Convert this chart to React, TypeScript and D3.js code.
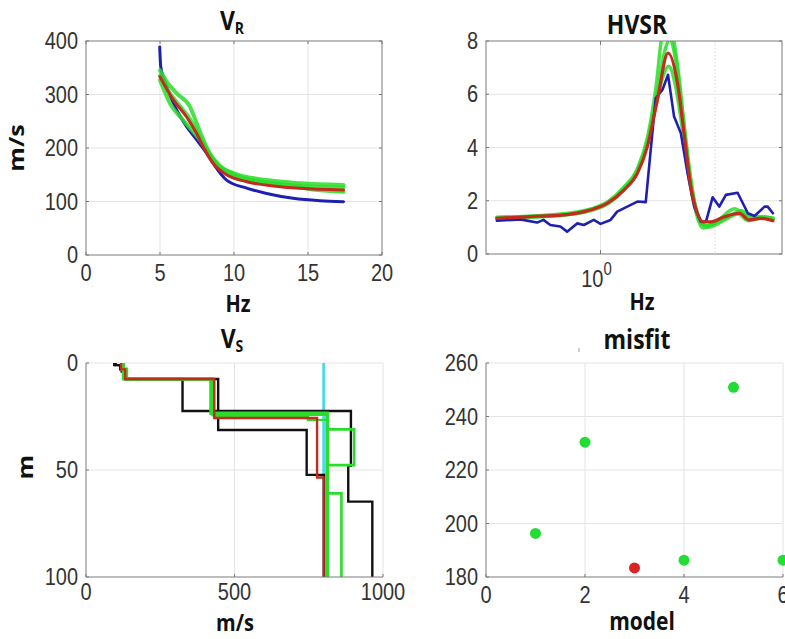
import * as d3 from "d3"

const W = 785
const H = 639
const SY = 1.2

// V_R dispersion curves: [Hz, m/s]
const vrBlue = [[4.98,389],[5.05,352],[5.45,315],[6.13,271],[6.8,240],[7.48,215],[8.15,190],[8.6,171],[9.5,140],[10.86,125],[12.2,115],[14.0,106],[15.8,101.5],[17.4,99.6]]
const vrRed = [[5.0,333],[5.9,290],[6.8,258],[7.48,227],[7.93,202],[8.6,171],[9.5,150],[10.86,137],[12.65,129],[14.46,124.6],[17.4,121.5]]
const vrGreenHigh = [[5.0,345],[5.5,322],[6.13,302],[7.03,277],[7.48,246],[7.93,215],[8.8,171],[9.95,153],[12.2,140],[14.5,134],[17.4,131]]
const vrGreenMid = [[5.0,335],[5.6,305],[6.3,280],[7.0,255],[7.6,225],[8.2,195],[9.0,168],[10,150],[12,137],[14.5,129],[17.4,126]]
const vrGreenLow = [[5.0,327],[5.68,283],[6.57,252],[7.7,215],[8.6,178],[9.95,146],[11.5,136],[13.3,131],[15.5,122],[17.4,118]]

// HVSR curves: [Hz, ratio]
const hvBlue = [[0.534,1.25],[0.615,1.3],[0.681,1.18],[0.708,1.28],[0.738,1.09],[0.784,1.03],[0.817,0.84],[0.868,1.15],[0.904,1.09],[0.96,1.28],[1.0,1.13],[1.063,1.28],[1.106,1.59],[1.176,1.78],[1.25,1.97],[1.315,1.95],[1.355,3.9],[1.397,5.85],[1.455,6.17],[1.505,6.73],[1.561,5.16],[1.626,4.54],[1.694,3.03],[1.763,1.78],[1.836,1.21],[1.893,1.21],[1.971,2.13],[2.052,1.78],[2.136,2.22],[2.293,2.3],[2.44,1.53],[2.54,1.43],[2.7,1.78],[2.75,1.78],[2.84,1.53]]
const hvRed = [[0.534,1.34],[0.69,1.42],[0.817,1.48],[0.94,1.65],[1.04,1.9],[1.152,2.4],[1.25,3.03],[1.328,4.03],[1.411,5.79],[1.505,7.55],[1.593,6.42],[1.658,4.54],[1.727,2.53],[1.798,1.53],[1.855,1.21],[1.95,1.21],[2.116,1.4],[2.318,1.53],[2.46,1.28],[2.64,1.34],[2.84,1.25]]
const hvGreenA = [[0.534,1.38],[0.7,1.45],[0.85,1.56],[0.95,1.7],[1.05,1.98],[1.15,2.5],[1.25,3.2],[1.33,4.4],[1.4,6.3],[1.45,8.2],[1.49,8.9],[1.54,8.4],[1.6,6.9],[1.66,4.8],[1.73,2.7],[1.8,1.35],[1.86,0.98],[1.95,1.02],[2.1,1.25],[2.3,1.5],[2.45,1.25],[2.65,1.35],[2.84,1.3]]
const hvGreenB = [[0.534,1.32],[0.7,1.4],[0.85,1.5],[0.95,1.64],[1.05,1.9],[1.15,2.4],[1.25,3.1],[1.33,4.2],[1.41,5.8],[1.47,6.8],[1.51,7.05],[1.57,6.4],[1.63,5.0],[1.69,3.3],[1.76,1.9],[1.84,1.15],[1.9,1.05],[2.05,1.3],[2.25,1.7],[2.42,1.45],[2.6,1.4],[2.84,1.35]]
const hvGreenC = [[0.534,1.36],[0.7,1.43],[0.85,1.52],[0.95,1.68],[1.05,1.93],[1.15,2.45],[1.25,3.1],[1.33,4.2],[1.41,6.0],[1.48,7.7],[1.52,8.05],[1.58,7.2],[1.64,5.4],[1.7,3.5],[1.77,1.9],[1.84,1.2],[1.9,1.05],[2.0,1.15],[2.2,1.45],[2.35,1.62],[2.5,1.35],[2.7,1.4],[2.84,1.32]]

// V_S profiles: layers [m/s, bottom depth m]
const vsCyan = [[800,100]]
const vsBlackA = [[95,1],[115,3],[130,7.5],[445,31.3],[743,52.3],[802,100]]
const vsBlackB = [[100,1],[120,4],[135,7.5],[325,22.4],[892,48],[883,64.8],[964,100]]
const vsRed = [[118,3],[132,7.5],[432,25.7],[778,53.5],[800,100]]
const vsGreen1 = [[122,3],[136,7.5],[421,23.5],[812,100]]
const vsGreen2 = [[125,7.5],[426,24.2],[812,31],[903,47.7],[812,60.9],[860,100]]
const vsGreen3 = [[128,7.5],[430,24.8],[747,26.6],[812,100]]

// misfit per model
const models = [1, 2, 3, 4, 5, 6]
const misfits = [196.3, 230.4, 183.4, 186.3, 250.9, 186.3]
const bestModel = 3

const GREEN = "#2add2a"
const RED = "#c42a1e"
const BLUE = "#2020b0"
const BLACK = "#111"
const CYAN = "#40d8ee"
const GRID = "#e4e4e4"
const AXIS = "#7a7a7a"
const TICKTXT = "#333"

function Txt({x, y, size, bold, anchor, rot, children, color}: any) {
    const tf = rot
        ? `translate(${x},${y}) rotate(-90) scale(${SY},1)`
        : `translate(${x},${y}) scale(1,${SY})`
    return (
        <text
        transform={tf}
        fontSize={size}
        fontWeight={bold ? 700 : 400}
        fontFamily={bold ? "'Open Sans', sans-serif" : "'Liberation Sans', Arial, sans-serif"}
        textAnchor={anchor || "middle"}
        fill={color || (bold ? BLACK : TICKTXT)}
        >
            {children}
        </text>
    )
}

function steps(layers: number[][]) {
    const pts: number[][] = []
    layers.forEach((l, i) => {
        const top = i === 0 ? 0 : layers[i - 1][1]
        pts.push([l[0], top])
        pts.push([l[0], l[1]])
    })
    return pts
}

export default function App() {
    // V_R panel
    const x1 = d3.scaleLinear().domain([0, 20]).range([86, 382])
    const y1 = d3.scaleLinear().domain([0, 400]).range([255, 41])
    const line1 = d3.line<number[]>().x(d => x1(d[0])).y(d => y1(d[1])).curve(d3.curveMonotoneX)

    // HVSR panel
    const x2 = d3.scaleLog().domain([0.5, 3]).range([486, 782])
    const y2 = d3.scaleLinear().domain([0, 8]).range([254, 41])
    const line2 = d3.line<number[]>().x(d => x2(d[0])).y(d => y2(d[1]))
    const line2s = d3.line<number[]>().x(d => x2(d[0])).y(d => y2(d[1])).curve(d3.curveMonotoneX)

    // V_S panel
    const x3 = d3.scaleLinear().domain([0, 1000]).range([86, 383])
    const y3 = d3.scaleLinear().domain([0, 100]).range([363, 577])
    const line3 = d3.line<number[]>().x(d => x3(d[0])).y(d => y3(d[1]))

    // misfit panel
    const x4 = d3.scaleLinear().domain([0, 6]).range([486, 783])
    const y4 = d3.scaleLinear().domain([180, 260]).range([577, 363])

    const vr = [
        {d: vrBlue, c: BLUE, w: 3},
        {d: vrGreenHigh, c: GREEN, w: 4},
        {d: vrGreenMid, c: GREEN, w: 4},
        {d: vrGreenLow, c: GREEN, w: 4},
        {d: vrRed, c: RED, w: 3},
    ]
    const hv = [
        {d: hvGreenA, c: GREEN, w: 3.5, s: true},
        {d: hvGreenB, c: GREEN, w: 3.5, s: true},
        {d: hvGreenC, c: GREEN, w: 3.5, s: true},
        {d: hvBlue, c: BLUE, w: 2.6, s: false},
        {d: hvRed, c: RED, w: 3.2, s: true},
    ]
    const vs = [
        {d: vsCyan, c: CYAN, w: 2.6},
        {d: vsBlackA, c: BLACK, w: 2.4},
        {d: vsBlackB, c: BLACK, w: 2.4},
        {d: vsGreen3, c: GREEN, w: 2.4},
        {d: vsGreen2, c: GREEN, w: 2.6},
        {d: vsGreen1, c: GREEN, w: 3.6},
        {d: vsRed, c: RED, w: 2.4},
    ]

    return (
        <svg width={W} height={H} style={{position: "absolute", left: 0, top: 0, background: "#fff"}}>
            <defs>
                <clipPath id="c1"><rect x={86} y={41} width={296} height={214} /></clipPath>
                <clipPath id="c2"><rect x={486} y={41} width={296} height={213} /></clipPath>
                <clipPath id="c3"><rect x={86} y={363} width={297} height={214} /></clipPath>
            </defs>

            {/* ---- V_R ---- */}
            <g>
                {[5, 10, 15].map(t => <line key={t} x1={x1(t)} x2={x1(t)} y1={41} y2={255} stroke={GRID} />)}
                {[100, 200, 300].map(t => <line key={t} x1={86} x2={382} y1={y1(t)} y2={y1(t)} stroke={GRID} />)}
                <g clipPath="url(#c1)" fill="none" strokeLinecap="round" strokeLinejoin="round">
                    {vr.map((s, i) => <path key={i} d={line1(s.d as any) || ""} stroke={s.c} strokeWidth={s.w} strokeOpacity={s.c === GREEN ? 0.85 : 1} />)}
                </g>
                <rect x={86} y={41} width={296} height={214} fill="none" stroke={AXIS} />
                {x1.ticks(4).map(t => (
                    <g key={t}>
                        <line x1={x1(t)} x2={x1(t)} y1={255} y2={252} stroke={AXIS} />
                        <line x1={x1(t)} x2={x1(t)} y1={41} y2={44} stroke={AXIS} />
                        <Txt x={x1(t)} y={281} size={20}>{t}</Txt>
                    </g>
                ))}
                {y1.ticks(4).map(t => (
                    <g key={t}>
                        <line x1={86} x2={89} y1={y1(t)} y2={y1(t)} stroke={AXIS} />
                        <line x1={382} x2={379} y1={y1(t)} y2={y1(t)} stroke={AXIS} />
                        <Txt x={78} y={y1(t) + 8} size={20} anchor="end">{t}</Txt>
                    </g>
                ))}
                <Txt x={232} y={30} size={23} bold>V<tspan fontSize={14} dy={3}>R</tspan></Txt>
                <Txt x={238} y={312} size={20} bold>Hz</Txt>
                <Txt x={24} y={148} size={21} bold rot>m/s</Txt>
            </g>

            {/* ---- HVSR ---- */}
            <g>
                <line x1={x2(1)} x2={x2(1)} y1={41} y2={254} stroke={GRID} />
                <line x1={x2(2)} x2={x2(2)} y1={41} y2={254} stroke="#d8d8d8" strokeDasharray="1.5,2" />
                {[2, 4, 6].map(t => <line key={t} x1={486} x2={782} y1={y2(t)} y2={y2(t)} stroke={GRID} />)}
                <g clipPath="url(#c2)" fill="none" strokeLinecap="round" strokeLinejoin="round">
                    {hv.map((s, i) => <path key={i} d={(s.s ? line2s : line2)(s.d as any) || ""} stroke={s.c} strokeWidth={s.w} strokeOpacity={s.c === GREEN ? 0.85 : 1} />)}
                </g>
                <rect x={486} y={41} width={296} height={213} fill="none" stroke={AXIS} />
                <line x1={x2(1)} x2={x2(1)} y1={254} y2={250} stroke={AXIS} />
                <line x1={x2(1)} x2={x2(1)} y1={41} y2={45} stroke={AXIS} />
                <Txt x={x2(1) - 4} y={287} size={20}>10<tspan fontSize={15} dy={-10}>0</tspan></Txt>
                {y2.ticks(4).map(t => (
                    <g key={t}>
                        <line x1={486} x2={489} y1={y2(t)} y2={y2(t)} stroke={AXIS} />
                        <line x1={782} x2={779} y1={y2(t)} y2={y2(t)} stroke={AXIS} />
                        <Txt x={478} y={y2(t) + 8} size={20} anchor="end">{t}</Txt>
                    </g>
                ))}
                <Txt x={637} y={34} size={23} bold>HVSR</Txt>
                <Txt x={642} y={310} size={20} bold>Hz</Txt>
            </g>

            {/* ---- V_S ---- */}
            <g>
                <line x1={x3(500)} x2={x3(500)} y1={363} y2={577} stroke={GRID} />
                <line x1={86} x2={383} y1={y3(50)} y2={y3(50)} stroke={GRID} />
                <line x1={86} x2={383} y1={363} y2={363} stroke={GRID} />
                <line x1={383} x2={383} y1={363} y2={577} stroke={GRID} />
                <g clipPath="url(#c3)" fill="none" strokeLinejoin="miter">
                    {vs.map((s, i) => <path key={i} d={line3(steps(s.d) as any) || ""} stroke={s.c} strokeWidth={s.w} />)}
                </g>
                <line x1={86} x2={86} y1={363} y2={577} stroke={AXIS} />
                <line x1={86} x2={383} y1={577} y2={577} stroke={AXIS} />
                {[0, 500, 1000].map(t => (
                    <g key={t}>
                        <line x1={x3(t)} x2={x3(t)} y1={577} y2={574} stroke={AXIS} />
                        <Txt x={x3(t)} y={600} size={20}>{t}</Txt>
                    </g>
                ))}
                {[0, 50, 100].map(t => (
                    <g key={t}>
                        <line x1={86} x2={89} y1={y3(t)} y2={y3(t)} stroke={AXIS} />
                        <Txt x={78} y={y3(t) + 8} size={20} anchor="end">{t}</Txt>
                    </g>
                ))}
                <Txt x={232} y={348} size={23} bold>V<tspan fontSize={14} dy={3}>S</tspan></Txt>
                <Txt x={235} y={631} size={20} bold>m/s</Txt>
                <Txt x={33} y={467} size={21} bold rot>m</Txt>
            </g>

            {/* ---- misfit ---- */}
            <g>
                {[2, 4].map(t => <line key={t} x1={x4(t)} x2={x4(t)} y1={363} y2={577} stroke={GRID} />)}
                {[200, 220, 240].map(t => <line key={t} x1={486} x2={783} y1={y4(t)} y2={y4(t)} stroke={GRID} />)}
                <line x1={486} x2={783} y1={363} y2={363} stroke={GRID} />
                <line x1={783} x2={783} y1={363} y2={577} stroke={GRID} />
                <line x1={486} x2={486} y1={363} y2={577} stroke={AXIS} />
                <line x1={486} x2={783} y1={577} y2={577} stroke={AXIS} />
                {models.map((m, i) => (
                    <circle key={m} cx={x4(m)} cy={y4(misfits[i])} r={5.5} fill={m === bestModel ? "#dd2222" : "#22dd33"} />
                ))}
                {[0, 2, 4, 6].map(t => (
                    <g key={t}>
                        <line x1={x4(t)} x2={x4(t)} y1={577} y2={574} stroke={AXIS} />
                        <Txt x={x4(t)} y={603} size={20}>{t}</Txt>
                    </g>
                ))}
                {[180, 200, 220, 240, 260].map(t => (
                    <g key={t}>
                        <line x1={486} x2={489} y1={y4(t)} y2={y4(t)} stroke={AXIS} />
                        <Txt x={478} y={y4(t) + 8} size={20} anchor="end">{t}</Txt>
                    </g>
                ))}
                <line x1={579} x2={579} y1={348} y2={352} stroke="#999" />
                <Txt x={637} y={349} size={23} bold>misfit</Txt>
                <Txt x={642} y={630} size={21} bold>model</Txt>
            </g>
        </svg>
    )
}
